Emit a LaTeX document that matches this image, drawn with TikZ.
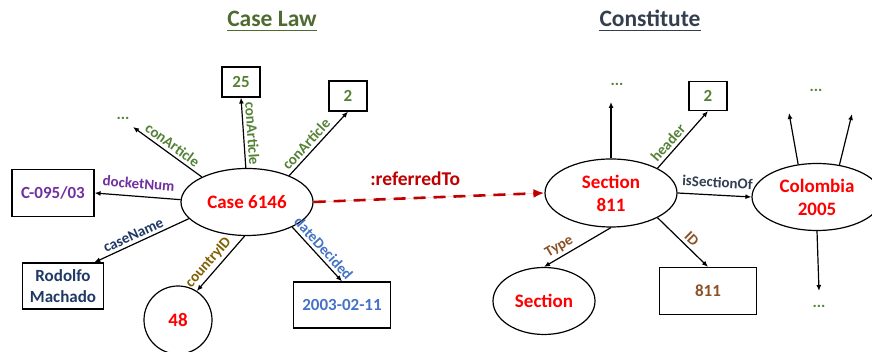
\documentclass[tikz,border=0pt]{standalone}
\usepackage{fontspec}
\setmainfont{Carlito}
\usetikzlibrary{shapes.geometric,arrows.meta}

\definecolor{knotenrot}{HTML}{FF0000}
\definecolor{refrot}{HTML}{C00000}
\definecolor{gruen}{HTML}{548235}
\definecolor{titelgruen}{HTML}{4F6B2F}
\definecolor{lila}{HTML}{7030A0}
\definecolor{dunkelblau}{HTML}{1F3864}
\definecolor{oliv}{HTML}{7F6000}
\definecolor{hellblau}{HTML}{4472C4}
\definecolor{braun}{HTML}{8B5228}
\definecolor{grau}{HTML}{333F50}

\begin{document}
\begin{tikzpicture}[x=1pt,y=1pt,>={Latex[length=6pt,width=5pt]},
	ell/.style={ellipse, draw, line width=1.2pt, inner sep=0pt, align=center, text=knotenrot, font=\bfseries\fontsize{19}{23}\selectfont},
	kasten/.style={draw, line width=1.2pt, inner sep=0pt, align=center, font=\bfseries\fontsize{17}{21}\selectfont},
	kante/.style={->, line width=1.2pt},
	marke/.style={font=\bfseries\fontsize{15}{17}\selectfont, inner sep=1.5pt, sloped, above=1.5pt},
	punkte/.style={font=\bfseries\fontsize{16}{17}\selectfont, text=gruen, inner sep=1pt},
	titel/.style={font=\bfseries\fontsize{23.5}{26}\selectfont, inner sep=0pt, anchor=base}]

			\useasboundingbox (0,0) rectangle (872,352);

			% Titel
			\node[titel, text=titelgruen] (tlaw) at (272,325) {Case Law};
			\draw[titelgruen, line width=1.2pt] ([yshift=-3.5pt]tlaw.south west) -- ([yshift=-3.5pt]tlaw.south east);
			\node[titel, text=grau] (tcon) at (650,325) {Constitute};
			\draw[grau, line width=1.2pt] ([yshift=-3.5pt]tcon.south west) -- ([yshift=-3.5pt]tcon.south east);

			% Knoten Case Law
			\node[ell, minimum width=132pt, minimum height=67pt] (case) at (247,150) {Case 6146};
			\node[kasten, minimum width=38pt, minimum height=30pt, text=gruen] (a25) at (241,270) {25};
			\node[kasten, minimum width=38pt, minimum height=30pt, text=gruen] (a2) at (348,256) {2};
			\node[kasten, minimum width=82pt, minimum height=47pt, text=lila] (docket) at (53,159) {C-095/03};
			\node[kasten, minimum width=81pt, minimum height=46pt, text=dunkelblau] (rodolfo) at (63,66) {Rodolfo\\Machado};
			\node[circle, draw, line width=1.2pt, minimum size=68pt, inner sep=0pt, text=knotenrot, font=\bfseries\fontsize{19}{23}\selectfont] (c48) at (178,32) {48};
			\node[kasten, minimum width=97pt, minimum height=46pt, text=hellblau] (date) at (342,47) {2003-02-11};
			\node[punkte] (dotsA) at (123,234) {...};
			\coordinate (endA) at (133,225);

			% Knoten Constitute
			\node[ell, minimum width=132pt, minimum height=68pt] (sec) at (611,159) {Section\\811};
			\node[ell, minimum width=130pt, minimum height=67pt] (col) at (817,155) {Colombia\\2005};
			\node[ell, minimum width=102pt, minimum height=67pt] (secT) at (544,51) {Section};
			\node[kasten, minimum width=38pt, minimum height=29pt, text=gruen] (h2) at (708,256) {2};
			\node[kasten, minimum width=97pt, minimum height=47pt, text=braun] (b811) at (708,61) {811};
			\node[punkte] (dotsB) at (617,268) {...};
			\node[punkte] (dotsC) at (816,262) {...};
			\node[punkte] (dotsD) at (819,46) {...};
			\coordinate (endB) at (611,250);
			\coordinate (endC1) at (789,239);
			\coordinate (endC2) at (852,238);
			\coordinate (endD) at (819,61);

			% Kanten Case Law
			\draw[kante] (case.151) -- (endA) node[marke, pos=0.5, text=gruen] {conArticle};
			\draw[kante] (case.92) -- (a25.south) node[marke, pos=0.48, text=gruen] {conArticle};
			\draw[kante] (case.32) -- (a2.south) node[marke, pos=0.4, text=gruen] {conArticle};
			\draw[kante] (case.178) -- (docket.east) node[marke, above=4pt, pos=0.5, text=lila] {docketNum};
			\draw[kante] (case.196) -- (rodolfo.37) node[marke, pos=0.55, text=dunkelblau] {caseName};
			\draw[kante] (case.266) -- (c48.57) node[marke, pos=0.6, text=oliv] {countryID};
			\draw[kante] (case.331) -- (date.north) node[marke, pos=0.5, text=hellblau] {dateDecided};

			% Verweis
			\draw[-{Latex[length=11pt,width=9pt]}, line width=2.6pt, dash pattern=on 12pt off 8pt, draw=refrot, fill=refrot] (case.east) -- (sec.west) node[pos=0.44, above=9pt, inner sep=2pt, text=refrot, font=\bfseries\fontsize{19.5}{21}\selectfont] {:referredTo};

			% Kanten Constitute
			\draw[kante] (sec.north) -- (endB);
			\draw[kante] (sec.28) -- (h2.south) node[marke, pos=0.34, text=gruen] {header};
			\draw[kante] (sec.east) -- (col.west) node[marke, above=4pt, pos=0.53, text=grau] {isSectionOf};
			\draw[kante] (sec.south) -- (secT.north) node[marke, pos=0.7, text=braun] {Type};
			\draw[kante] (sec.332) -- (b811.north) node[marke, pos=0.56, text=braun] {ID};
			\draw[kante] (col.120) -- (endC1);
			\draw[kante] (col.55) -- (endC2);
			\draw[kante] (col.south) -- (endD);
		\end{tikzpicture}
\end{document}
